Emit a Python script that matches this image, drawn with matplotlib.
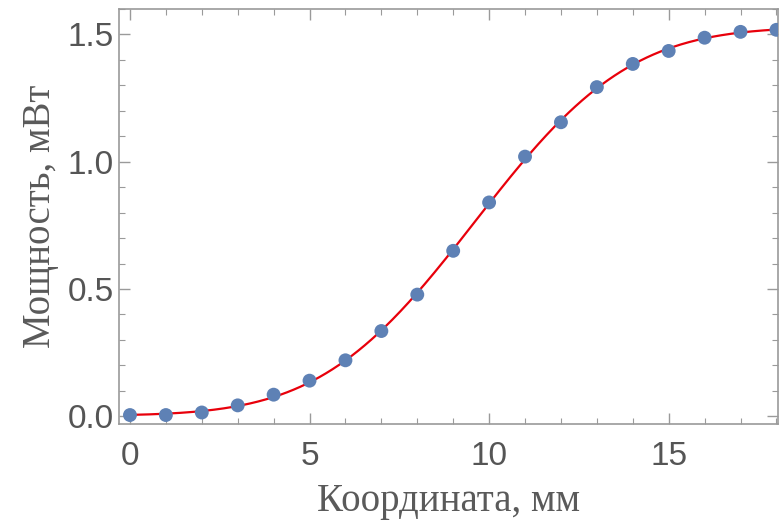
import math
import numpy as np
import matplotlib
matplotlib.use("Agg")
import matplotlib.pyplot as plt
from matplotlib.ticker import MultipleLocator

# measured points
coord_mm = [0, 1, 2, 3, 4, 5, 6, 7, 8, 9, 10, 11, 12, 13, 14, 15, 16, 17, 18]
power_mw = [0.005, 0.005, 0.015, 0.043, 0.085, 0.14, 0.22, 0.335, 0.478, 0.65,
            0.84, 1.02, 1.155, 1.293, 1.384, 1.435, 1.487, 1.51, 1.518]

x_label = "Координата, мм"
y_label = "Мощность, мВт"


def model(p, x):
    a, x0, w, c = p
    return a / 2 * (1 + np.array([math.erf(v) for v in (x - x0) / w])) + c


def fit(x, y, p):
    # simple Gauss-Newton least squares for the erf profile
    p = np.array(p, dtype=float)
    for _ in range(50):
        r = y - model(p, x)
        J = np.zeros((len(x), len(p)))
        for k in range(len(p)):
            dp = np.zeros_like(p)
            dp[k] = 1e-6 * max(1.0, abs(p[k]))
            J[:, k] = (model(p + dp, x) - model(p, x)) / dp[k]
        step = np.linalg.lstsq(J, r, rcond=None)[0]
        p = p + step
        if np.max(np.abs(step)) < 1e-10:
            break
    return p


x = np.array(coord_mm, dtype=float)
y = np.array(power_mw)
params = fit(x, y, [1.5, 9.5, 4.7, 0.0])
xs = np.linspace(0, 18, 400)

fig = plt.figure(figsize=(7.79, 5.26), dpi=100)
ax = fig.add_axes([0.153, 0.194, 0.846, 0.789])

ax.plot(xs, model(params, xs), color="#e8000b", lw=1.6, zorder=2)
ax.scatter(x, y, s=100, color="#5e81b5", zorder=3, edgecolors="none")

ax.set_xlim(-0.3, 18.05)
ax.set_ylim(-0.03, 1.6)
ax.xaxis.set_major_locator(MultipleLocator(5))
ax.xaxis.set_minor_locator(MultipleLocator(1))
ax.yaxis.set_major_locator(MultipleLocator(0.5))
ax.yaxis.set_minor_locator(MultipleLocator(0.1))
ax.xaxis.set_major_formatter(plt.FuncFormatter(lambda v, _: "%d" % v))
ax.yaxis.set_major_formatter(plt.FuncFormatter(lambda v, _: "%.1f" % v))

frame = "#9a9a9a"
for s in ax.spines.values():
    s.set_color(frame)
    s.set_linewidth(1.2)
ax.tick_params(which="both", direction="in", top=True, right=True, color=frame,
               labelcolor="#555555", labelsize=24)
ax.tick_params(which="major", length=8, width=1)
ax.tick_params(which="minor", length=4, width=0.8)
ax.tick_params(axis="x", which="major", pad=12)
ax.tick_params(axis="y", which="major", pad=4)
for lab in ax.get_xticklabels() + ax.get_yticklabels():
    lab.set_family("Liberation Sans")

ax.set_xlabel(x_label, family="Liberation Serif", fontsize=28, color="#5a5a5a", labelpad=8)
ax.set_ylabel(y_label, family="Liberation Serif", fontsize=28, color="#5a5a5a", labelpad=6)

fig.savefig("out.png", dpi=100)
